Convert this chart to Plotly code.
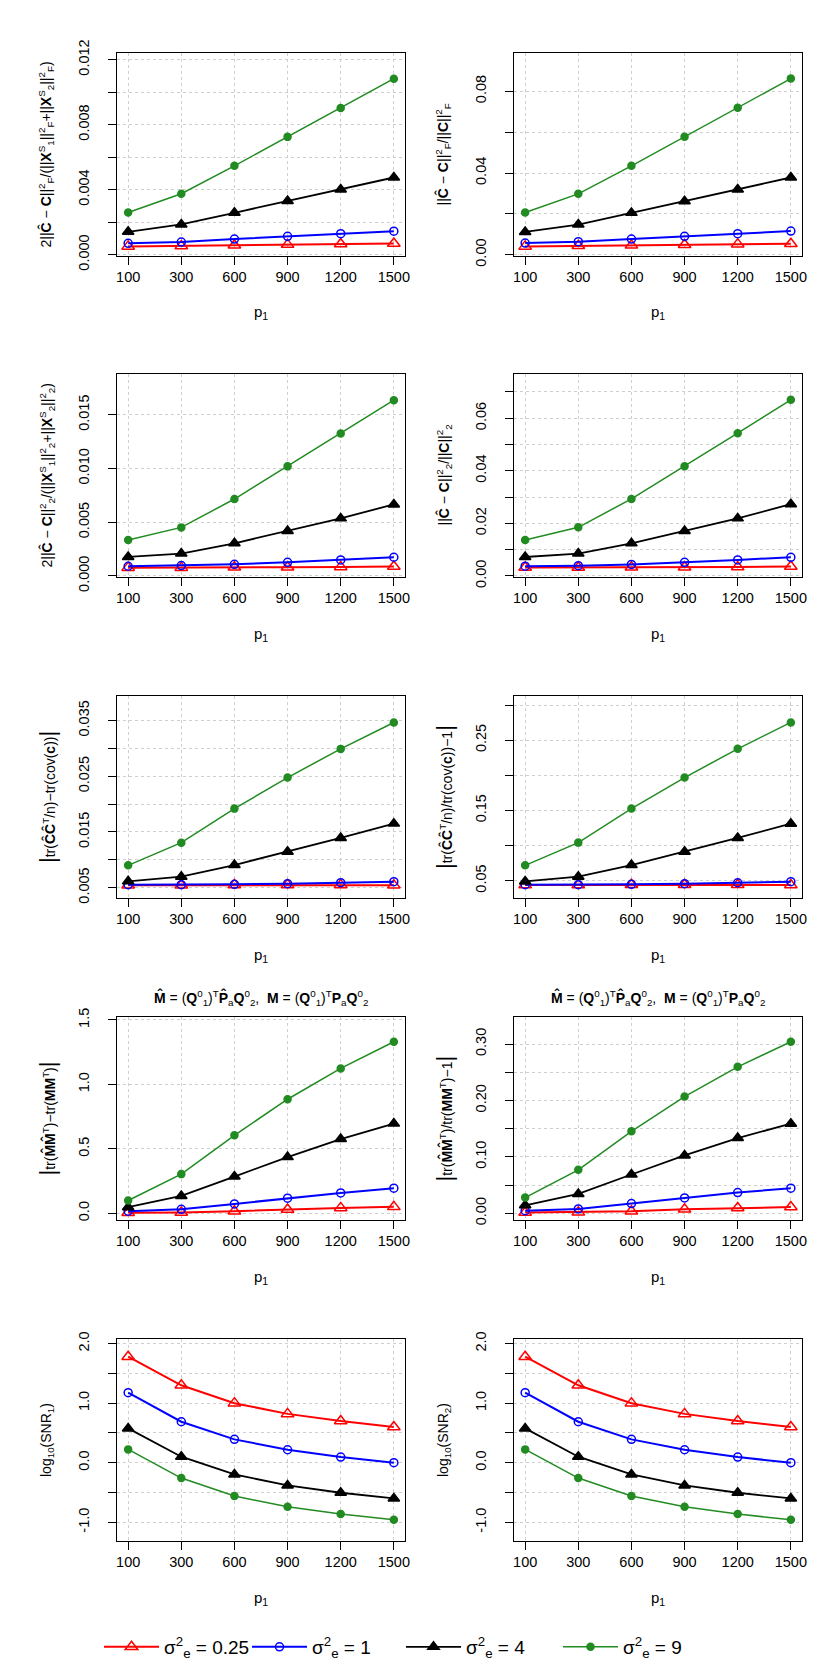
import plotly.graph_objects as go
from plotly.subplots import make_subplots

p1 = ["100", "300", "600", "900", "1200", "1500"]
sigma2 = ["0.25", "1", "4", "9"]

# each metric: one list per sigma_e^2 (0.25, 1, 4, 9)
frob_sum = [
    [0.00051, 0.00054, 0.00058, 0.00062, 0.00066, 0.00069],
    [0.00070, 0.00078, 0.00096, 0.00113, 0.00129, 0.00145],
    [0.00141, 0.00186, 0.00258, 0.00330, 0.00401, 0.00475],
    [0.00260, 0.00375, 0.00547, 0.00725, 0.00903, 0.01083],
]
frob_rel = [
    [0.0041, 0.0044, 0.0046, 0.0049, 0.0052, 0.0054],
    [0.0057, 0.0064, 0.0077, 0.0090, 0.0103, 0.0116],
    [0.0112, 0.0148, 0.0205, 0.0262, 0.0319, 0.0378],
    [0.0207, 0.0298, 0.0435, 0.0577, 0.0719, 0.0862],
]
spec_sum = [
    [0.00077, 0.00077, 0.00080, 0.00081, 0.00084, 0.00087],
    [0.00090, 0.00096, 0.00108, 0.00127, 0.00149, 0.00174],
    [0.00177, 0.00208, 0.00304, 0.00418, 0.00536, 0.00666],
    [0.00335, 0.00452, 0.00716, 0.01020, 0.01326, 0.01636],
]
spec_rel = [
    [0.0032, 0.0032, 0.0033, 0.0033, 0.0034, 0.0036],
    [0.0037, 0.0039, 0.0044, 0.0052, 0.0061, 0.0071],
    [0.0072, 0.0085, 0.0124, 0.0171, 0.0219, 0.0273],
    [0.0137, 0.0185, 0.0293, 0.0417, 0.0543, 0.0670],
]
cov_abs = [
    [0.00545, 0.00545, 0.00550, 0.00550, 0.00550, 0.00545],
    [0.00554, 0.00554, 0.00560, 0.00572, 0.00590, 0.00608],
    [0.00614, 0.00698, 0.00907, 0.01147, 0.01392, 0.01650],
    [0.00901, 0.01308, 0.01919, 0.02476, 0.02991, 0.03464],
]
cov_rel = [
    [0.0438, 0.0438, 0.0443, 0.0443, 0.0443, 0.0438],
    [0.0443, 0.0443, 0.0448, 0.0457, 0.0471, 0.0486],
    [0.0490, 0.0557, 0.0723, 0.0913, 0.1108, 0.1312],
    [0.0719, 0.1042, 0.1526, 0.1968, 0.2376, 0.2752],
]
mm_abs = [
    [0.004, 0.006, 0.016, 0.030, 0.042, 0.050],
    [0.016, 0.031, 0.073, 0.117, 0.158, 0.195],
    [0.047, 0.135, 0.285, 0.436, 0.576, 0.696],
    [0.099, 0.304, 0.605, 0.885, 1.124, 1.331],
]
mm_rel = [
    [0.0015, 0.0020, 0.0035, 0.0070, 0.0095, 0.0110],
    [0.0047, 0.0077, 0.0172, 0.0273, 0.0368, 0.0445],
    [0.0142, 0.0344, 0.0688, 0.1026, 0.1334, 0.1589],
    [0.0279, 0.0771, 0.1453, 0.2069, 0.2597, 0.3041],
]
log_snr1 = [
    [1.78, 1.30, 1.00, 0.82, 0.70, 0.60],
    [1.175, 0.688, 0.392, 0.218, 0.095, 0.0],
    [0.576, 0.101, -0.196, -0.381, -0.504, -0.599],
    [0.224, -0.257, -0.560, -0.739, -0.862, -0.957],
]
log_snr2 = [
    [1.78, 1.30, 1.00, 0.82, 0.70, 0.60],
    [1.175, 0.688, 0.392, 0.218, 0.095, 0.0],
    [0.576, 0.101, -0.196, -0.381, -0.504, -0.599],
    [0.224, -0.257, -0.560, -0.739, -0.862, -0.957],
]

# y ticks: labelled values + labels, then the unlabelled in-between ticks
ticks_frob_sum = [0, 0.004, 0.008, 0.012]
labels_frob_sum = ["0.000", "0.004", "0.008", "0.012"]
minor_frob_sum = [0.002, 0.006, 0.010]
ticks_frob_rel = [0, 0.04, 0.08]
labels_frob_rel = ["0.00", "0.04", "0.08"]
minor_frob_rel = [0.02, 0.06]
ticks_spec_sum = [0, 0.005, 0.010, 0.015]
labels_spec_sum = ["0.000", "0.005", "0.010", "0.015"]
minor_spec_sum = []
ticks_spec_rel = [0, 0.02, 0.04, 0.06]
labels_spec_rel = ["0.00", "0.02", "0.04", "0.06"]
minor_spec_rel = [0.01, 0.03, 0.05, 0.07]
ticks_cov_abs = [0.005, 0.015, 0.025, 0.035]
labels_cov_abs = ["0.005", "0.015", "0.025", "0.035"]
minor_cov_abs = [0.010, 0.020, 0.030]
ticks_cov_rel = [0.05, 0.15, 0.25]
labels_cov_rel = ["0.05", "0.15", "0.25"]
minor_cov_rel = [0.10, 0.20, 0.30]
ticks_mm_abs = [0, 0.5, 1.0, 1.5]
labels_mm_abs = ["0.0", "0.5", "1.0", "1.5"]
minor_mm_abs = []
ticks_mm_rel = [0, 0.10, 0.20, 0.30]
labels_mm_rel = ["0.00", "0.10", "0.20", "0.30"]
minor_mm_rel = [0.05, 0.15, 0.25]
ticks_snr = [-1.0, 0.0, 1.0, 2.0]
labels_snr = ["-1.0", "0.0", "1.0", "2.0"]
minor_snr = [-0.5, 0.5, 1.5]

W, H = 830, 1661
FONT = "Liberation Sans, Arial, Helvetica, sans-serif"

# pixel boxes of the plot regions
box_x = [(109, 397), (506, 794)]
box_y = [(45, 248), (366, 569), (688, 890), (1009, 1212), (1331, 1533)]

F2 = "<sup>2</sup><sub>F</sub>"
S2 = "<sup>2</sup><sub>2</sub>"
BAR = '<span style="font-size:22px">|</span>'
panels = [
    (frob_sum, ticks_frob_sum, labels_frob_sum, minor_frob_sum, [-0.00008, 0.01241],
     "2||<b>Ĉ</b> − <b>C</b>||" + F2 + "/(||<b>X</b><sup>S</sup><sub>1</sub>||" + F2
     + "+||<b>X</b><sup>S</sup><sub>2</sub>||" + F2 + ")"),
    (frob_rel, ticks_frob_rel, labels_frob_rel, minor_frob_rel, [-0.0006, 0.0987],
     "||<b>Ĉ</b> − <b>C</b>||" + F2 + "/||<b>C</b>||" + F2),
    (spec_sum, ticks_spec_sum, labels_spec_sum, minor_spec_sum, [-0.0001, 0.0188],
     "2||<b>Ĉ</b> − <b>C</b>||" + S2 + "/(||<b>X</b><sup>S</sup><sub>1</sub>||" + S2
     + "+||<b>X</b><sup>S</sup><sub>2</sub>||" + S2 + ")"),
    (spec_rel, ticks_spec_rel, labels_spec_rel, minor_spec_rel, [-0.0004, 0.0768],
     "||<b>Ĉ</b> − <b>C</b>||" + S2 + "/||<b>C</b>||" + S2),
    (cov_abs, ticks_cov_abs, labels_cov_abs, minor_cov_abs, [0.00315, 0.0394],
     BAR + "tr(<b>ĈĈ</b><sup>T</sup>/n)−tr(cov(<b>c</b>))" + BAR),
    (cov_rel, ticks_cov_rel, labels_cov_rel, minor_cov_rel, [0.0254, 0.3128],
     BAR + "tr(<b>ĈĈ</b><sup>T</sup>/n)/tr(cov(<b>c</b>))−1" + BAR),
    (mm_abs, ticks_mm_abs, labels_mm_abs, minor_mm_abs, [-0.052, 1.523],
     BAR + "tr(<b>M̂M̂</b><sup>T</sup>)−tr(<b>MM</b><sup>T</sup>)" + BAR),
    (mm_rel, ticks_mm_rel, labels_mm_rel, minor_mm_rel, [-0.0119, 0.348],
     BAR + "tr(<b>M̂M̂</b><sup>T</sup>)/tr(<b>MM</b><sup>T</sup>)−1" + BAR),
    (log_snr1, ticks_snr, labels_snr, minor_snr, [-1.314, 2.077],
     "log<sub>10</sub>(SNR<sub>1</sub>)"),
    (log_snr2, ticks_snr, labels_snr, minor_snr, [-1.314, 2.077],
     "log<sub>10</sub>(SNR<sub>2</sub>)"),
]

colors = ["#FF0000", "#0000FF", "#000000", "#228B22"]
symbols = ["triangle-up-open", "circle-open", "triangle-up", "circle"]
msizes = [11, 8, 10, 7]
lwidths = [2, 2, 1.8, 1.5]
legend_names = ["legend", "legend2", "legend3", "legend4"]
legend_x = [91, 239, 393, 550]

m_title = ("<b>M̂</b> = (<b>Q</b><sup>0</sup><sub>1</sub>)<sup>T</sup><b>P̂</b><sub>a</sub>"
           "<b>Q</b><sup>0</sup><sub>2</sub>,  <b>M</b> = (<b>Q</b><sup>0</sup><sub>1</sub>)"
           "<sup>T</sup><b>P</b><sub>a</sub><b>Q</b><sup>0</sup><sub>2</sub>")

fig = make_subplots(rows=5, cols=2)
annotations = []
grid = dict(showgrid=True, gridcolor="#cfcfcf", griddash="dot", gridwidth=1)
tickstyle = dict(ticks="outside", ticklen=8, tickcolor="black",
                 tickfont=dict(size=14.5, color="black", family=FONT))
frame = dict(showline=True, mirror=True, linecolor="black", linewidth=1,
             zeroline=False, automargin=False)

for k, (series, tv, tt, mv, yr, ytitle) in enumerate(panels):
    r, c = k // 2, k % 2
    x0, x1 = box_x[c]
    y0, y1 = box_y[r]
    for j in range(4):
        fig.add_trace(go.Scatter(
            x=p1, y=series[j], mode="lines+markers",
            name="σ<sup>2</sup><sub>e</sub> = " + sigma2[j],
            legendgroup=sigma2[j], showlegend=(k == 0), legend=legend_names[j],
            line=dict(color=colors[j], width=lwidths[j]),
            marker=dict(symbol=symbols[j], size=msizes[j], color=colors[j],
                        line=dict(color=colors[j], width=1.5)),
        ), row=r + 1, col=c + 1)

    sfx = "" if k == 0 else str(k + 1)
    fig.update_layout({
        "xaxis" + sfx: dict(
            domain=[x0 / W, x1 / W], type="category", range=[-0.21, 5.21],
            ticklabelstandoff=0, **frame, **tickstyle, **grid,
        ),
        "yaxis" + sfx: dict(
            domain=[1 - y1 / H, 1 - y0 / H], range=yr,
            tickmode="array", tickvals=tv, ticktext=tt, tickangle=-90,
            ticklabelstandoff=13, **frame, **tickstyle, **grid,
            minor=dict(tickmode="array", tickvals=mv, ticks="outside", ticklen=8,
                       tickcolor="black", **grid),
        ),
    })

    annotations.append(dict(
        text=ytitle, textangle=-90, xref="paper", yref="paper",
        x=(x0 - 70) / W, y=1 - (y0 + y1) / 2 / H, xanchor="center", yanchor="middle",
        showarrow=False, font=dict(size=14, color="black", family=FONT)))
    annotations.append(dict(
        text="p<sub>1</sub>", xref="paper", yref="paper",
        x=(x0 + x1) / 2 / W, y=1 - (y1 + 57) / H, xanchor="center", yanchor="middle",
        showarrow=False, font=dict(size=15, color="black", family=FONT)))
    if r == 3:
        annotations.append(dict(
            text=m_title, xref="paper", yref="paper",
            x=(x0 + x1) / 2 / W, y=1 - (y0 - 19) / H, xanchor="center", yanchor="middle",
            showarrow=False, font=dict(size=14, color="black", family=FONT)))

legends = {}
for j, ln in enumerate(legend_names):
    legends[ln] = dict(orientation="h", x=legend_x[j] / W, xanchor="left",
                       y=1 - 1639 / H, yanchor="middle", itemwidth=55,
                       bgcolor="rgba(0,0,0,0)",
                       font=dict(size=19, color="black", family=FONT))

fig.update_layout(
    width=W, height=H, margin=dict(l=0, r=0, t=0, b=0),
    paper_bgcolor="white", plot_bgcolor="white",
    font=dict(family=FONT, color="black"),
    annotations=annotations,
    **legends,
)

fig.write_html("out.html")
